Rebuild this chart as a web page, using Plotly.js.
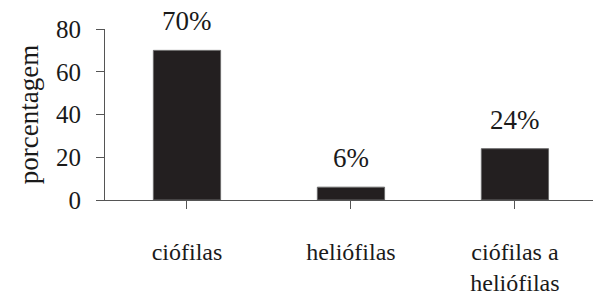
<!DOCTYPE html>
<html>
<head>
<meta charset="utf-8">
<script src="https://cdn.plot.ly/plotly-3.0.1.min.js"></script>
<style>
html,body{margin:0;padding:0;background:#fff;font-family:'Liberation Serif',serif;}
#chart{width:594px;height:299px;}
#chart svg text{font-family:'Liberation Serif',serif !important;}
</style>
</head>
<body>
<div id="chart"></div>
<script>
const categories = ["ciófilas", "heliófilas", "ciófilas a<br>heliófilas"];
const values = [70, 6, 24];
const valueLabels = ["70%", "6%", "24%"];
const yTicks = [0, 20, 40, 60, 80];

const FAMILY = "Liberation Serif";
function mkFont(size) { return {family: FAMILY, size: size, color: "#1a1a1a"}; }

const trace = {
  type: "bar",
  x: [0, 1, 2],
  y: values,
  width: 0.41,
  marker: {color: "#231f20", line: {color: "#6a6a6a", width: 1}},
  hoverinfo: "none"
};

const annotations = values.map((v, i) => ({
  x: i, y: v, xref: "x", yref: "y",
  text: valueLabels[i], showarrow: false,
  yanchor: "bottom", yshift: 12,
  font: mkFont(27)
}));

const layout = {
  width: 594, height: 299,
  margin: {l: 105, r: 1, t: 29, b: 99},
  paper_bgcolor: "#fff", plot_bgcolor: "#fff",
  font: mkFont(24),
  showlegend: false,
  bargap: 0,
  xaxis: {
    range: [-0.5, 2.476],
    tickvals: [0, 1, 2],
    ticktext: categories,
    tickson: "boundaries",
    ticks: "outside", ticklen: 8, tickwidth: 1, tickcolor: "#555",
    showline: true, linecolor: "#555", linewidth: 1,
    showgrid: false, zeroline: false,
    ticklabelstandoff: 22,
    tickfont: mkFont(24),
    fixedrange: true
  },
  yaxis: {
    range: [0, 80],
    tickvals: yTicks,
    ticks: "outside", ticklen: 8, tickwidth: 1, tickcolor: "#555",
    showline: true, linecolor: "#555", linewidth: 1,
    showgrid: false, zeroline: false,
    ticklabelstandoff: 10,
    tickfont: mkFont(25),
    title: {text: "porcentagem", font: mkFont(27), standoff: 9},
    fixedrange: true
  },
  annotations: annotations
};

Plotly.newPlot("chart", [trace], layout, {displayModeBar: false, staticPlot: true}).then(gd => {
  if (document.fonts && document.fonts.ready) {
    document.fonts.ready.then(() => Plotly.redraw(gd));
  }
});
</script>
</body>
</html>
